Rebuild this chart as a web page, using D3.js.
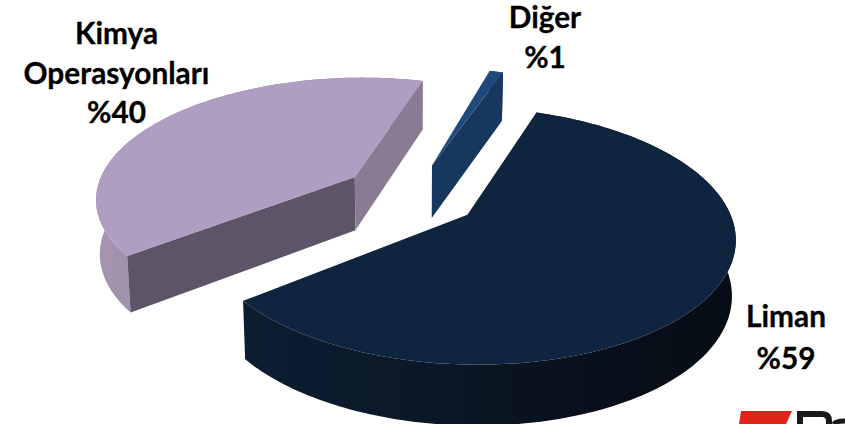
<!DOCTYPE html>
<html>
<head>
<meta charset="utf-8">
<script src="https://cdn.jsdelivr.net/npm/d3@7"></script>
<style>
  html, body { margin: 0; background: #fff; }
  svg { display: block; }
  text { font-family: Lato, "Open Sans", sans-serif; font-weight: 700; fill: #000; stroke: #000; stroke-width: 0.3px; font-size: 29.8px; text-anchor: middle; }
</style>
</head>
<body>
<div id="chart"></div>
<script>
const categories = ["Liman", "Kimya Operasyonları", "Diğer"]
const values = [59, 40, 1]
const labelLines = [["Liman", "%59"], ["Kimya", "Operasyonları", "%40"], ["Diğer", "%1"]]

const width = 845, height = 424
const deg = Math.PI / 180

// perspective settings of the tilted pie
const cx = 414, cy = 197
const rx = 257, ry = 119.5, persp = 0.16
const explode = [0.25, 0.275, 0.28]
const radius = [1, 1.012, 1.03]
const nudge = [[0, 0], [-2, -2], [-3, -1]]
const depth = 54, shrink = 0.988

const topColors = ["#0f243e", "#b09dc2", "#1f497d"]
const edgeStartColors = [null, "#5e5468", null]
const edgeEndColors = [null, "#8a7b94", "#17375e"]
const labelPos = [[786, 327, 42], [116.5, 44, 39.5], [545, 28, 40]]

// outer wall shading, from left to right on screen
const wallStops = [
  ["#0c1d2f", "#0b1a2b", "#0a1522", "#080f1a", "#060d14"],
  ["#a595b0", "#8f829a", "#8f829a"],
  ["#17375e", "#17375e"]
]

const project = (x, v, z) => {
  const k = 1 / (1 - persp * v)
  const sx = rx * x * k, sy = ry * v * k
  return z ? [cx + sx * shrink, cy + sy + depth * Math.pow(k, 0.6)] : [cx + sx, cy + sy]
}

const svg = d3.select("#chart").append("svg")
  .attr("width", width)
  .attr("height", height)

const defs = svg.append("defs")

const slices = d3.pie().sort(null).startAngle(19.5 * deg).endAngle(379.5 * deg)(values)
const line = d3.line()

// slices are painted back to front
const drawOrder = [1, 2, 0]

drawOrder.forEach(i => {
  const s = slices[i]
  const mid = (s.startAngle + s.endAngle) / 2
  const ox = Math.sin(mid) * explode[i], ov = -Math.cos(mid) * explode[i]
  const pt = (a, z) => project(ox + radius[i] * Math.sin(a), ov - radius[i] * Math.cos(a), z)
  const apex = z => project(ox, ov, z)
  const g = svg.append("g").attr("class", "slice")
    .attr("data-name", categories[i])
    .attr("transform", `translate(${nudge[i]})`)

  const steps = d3.range(s.startAngle, s.endAngle, 1 * deg).concat([s.endAngle])

  // wall gradient runs across the slice's screen extent
  const xs = d3.extent(steps, a => pt(a, 0)[0])
  const grad = defs.append("linearGradient")
    .attr("id", "wall" + i)
    .attr("gradientUnits", "userSpaceOnUse")
    .attr("x1", xs[0]).attr("x2", xs[1])
    .attr("y1", 0).attr("y2", 0)
  wallStops[i].forEach((c, j) => {
    grad.append("stop").attr("offset", j / (wallStops[i].length - 1)).attr("stop-color", c)
  })

  // the top face covers whatever part of the wall is behind it
  const outer = steps.map(a => pt(a, 0)).concat(steps.slice().reverse().map(a => pt(a, 1)))
  g.append("path")
    .attr("d", line(outer) + "Z")
    .attr("fill", `url(#wall${i})`)

  // flat walls along the two cut edges
  if (edgeStartColors[i]) {
    g.append("path")
      .attr("d", line([apex(0), pt(s.startAngle, 0), pt(s.startAngle, 1), apex(1)]) + "Z")
      .attr("fill", edgeStartColors[i])
  }
  if (edgeEndColors[i]) {
    g.append("path")
      .attr("d", line([apex(0), pt(s.endAngle, 0), pt(s.endAngle, 1), apex(1)]) + "Z")
      .attr("fill", edgeEndColors[i])
  }

  g.append("path")
    .attr("d", line([apex(0)].concat(steps.map(a => pt(a, 0)))) + "Z")
    .attr("fill", topColors[i])
})

labelLines.forEach((lines, i) => {
  const [x, y, lh] = labelPos[i]
  const t = svg.append("text").attr("x", x).attr("y", y)
  lines.forEach((l, j) => {
    t.append("tspan").attr("x", x).attr("y", y + j * lh).text(l)
  })
})

// corner of the logo that is cut off by the slide edge
const logo = svg.append("g")
logo.append("path").attr("d", "M741 411H792L786 424H739Z").attr("fill", "#e2231a")
logo.append("path").attr("d", "M800 424V414H822Q829 414 829 421V424").attr("fill", "none").attr("stroke", "#1a1a1a").attr("stroke-width", 6)
logo.append("path").attr("d", "M834 424Q835 421 845 421").attr("fill", "none").attr("stroke", "#1a1a1a").attr("stroke-width", 5)
</script>
</body>
</html>
